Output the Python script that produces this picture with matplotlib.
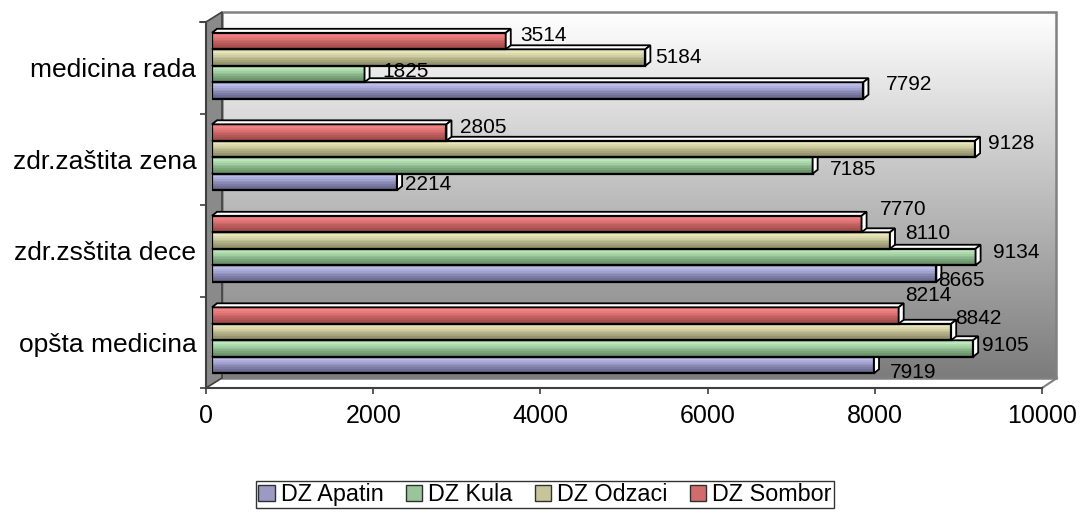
"""
Сгруппированная горизонтальная диаграмма (стиль Excel 3D) по домам здоровья.
"""

import numpy as np
import matplotlib
matplotlib.use('Agg')
import matplotlib.pyplot as plt
from matplotlib.colors import LinearSegmentedColormap, ListedColormap
from matplotlib.patches import Polygon, Rectangle, Patch
from matplotlib.transforms import IdentityTransform

# Данные
categories = ['opšta medicina', 'zdr.zsštita dece', 'zdr.zaštita zena', 'medicina rada']
series_names = ['DZ Apatin', 'DZ Kula', 'DZ Odzaci', 'DZ Sombor']
apatin = [7919, 8665, 2214, 7792]
kula = [9105, 9134, 7185, 1825]
odzaci = [8842, 8110, 9128, 5184]
sombor = [8214, 7770, 2805, 3514]
x_ticks = [0, 2000, 4000, 6000, 8000, 10000]

series_values = [apatin, kula, odzaci, sombor]

# Цвета серий: (светлый верх, тёмный низ)
SERIES_COLORS = [
    ('#c8c8f6', '#62628a'),
    ('#c8f6c8', '#628a62'),
    ('#f6f4c6', '#8c8a64'),
    ('#ff8a8a', '#9c4848'),
]

# Смещения подписей значений от конца столбца, пиксели: [серия][категория]
LABEL_DX = [[16, 2, 8, 22],
            [9, 17, 17, 18],
            [4, 15, 13, 10],
            [6, 18, 14, 14]]
LABEL_DY = [[-7.5, -7, -2.5, 5.5],
            [3, 4.5, -4, 2],
            [13.5, 7, 5.5, 0],
            [20, 14.5, 5, 6]]

W, H = 1080, 520
BAR_H = 0.18
DEPTH = (5, 4)

plt.rcParams['font.family'] = ['Liberation Sans', 'DejaVu Sans']

fig = plt.figure(figsize=(W / 100, H / 100), dpi=100)

# Фон: задняя и боковая стенки (в пиксельных координатах)
bg = fig.add_axes([0, 0, 1, 1], zorder=0)
bg.set_xlim(0, W)
bg.set_ylim(H, 0)
bg.axis('off')

wall_cmap = LinearSegmentedColormap.from_list('wall', ['#ffffff', '#7c7c7c'])
grad = np.linspace(0, 1, 256).reshape(-1, 1)
bg.imshow(grad, extent=(222, 1056, 378, 12), aspect='auto', cmap=wall_cmap,
          origin='upper', interpolation='bilinear')
bg.add_patch(Rectangle((222, 12), 834, 366, fill=False, ec='#808080', lw=1.8))
bg.add_patch(Polygon([(206, 22), (222, 12), (222, 378), (206, 388)],
                     closed=True, fc='#8a8a8a', ec='#404040', lw=1.2))
bg.plot([1042, 1057], [388, 378], color='#808080', lw=1.5)
bg.plot([200, 206], [22, 22], color='#404040', lw=1.2)
bg.set_xlim(0, W)
bg.set_ylim(H, 0)

# Основные оси (передняя плоскость): тики и подписи
ax = fig.add_axes([206 / W, (H - 388) / H, 836 / W, 366 / H], zorder=2)
ax.patch.set_alpha(0)
ax.set_xlim(0, 10000)
ax.set_ylim(0, 4)
ax.set_xticks(x_ticks)
ax.set_xticklabels([str(t) for t in x_ticks], fontsize=18)
ax.set_yticks(range(5))
ax.set_yticklabels([])
ax.set_yticks(np.arange(len(categories)) + 0.5, minor=True)
ax.set_yticklabels(categories, minor=True, fontsize=19)
ax.tick_params(axis='x', length=4.5, width=1.2, color='#404040', pad=7)
ax.tick_params(axis='y', which='major', length=4.5, width=1.2, color='#404040')
ax.tick_params(axis='y', which='minor', length=0, pad=7)
for side in ['top', 'right']:
    ax.spines[side].set_visible(False)
for side in ['left', 'bottom']:
    ax.spines[side].set_color('#404040')
    ax.spines[side].set_linewidth(1.5)

# Оси для столбцов (сдвинуты вглубь)
bax = fig.add_axes([212 / W, (H - 386) / H, 836 / W, 366 / H], zorder=3)
bax.axis('off')
bax.set_xlim(0, 10000)
bax.set_ylim(0, 4)

for k, values in enumerate(series_values):
    light, dark = SERIES_COLORS[k]
    cmap = ListedColormap(LinearSegmentedColormap.from_list(
        's%d' % k, [light, dark])(np.linspace(0, 1, 9)))
    z = 2 + k * 0.5
    for i, v in enumerate(values):
        y0 = i + 0.5 + (k - 2) * BAR_H
        y1 = y0 + BAR_H
        # Передняя грань с градиентом
        bax.imshow(grad, extent=(0, v, y0, y1), aspect='auto', cmap=cmap,
                   origin='upper', interpolation='nearest', zorder=z)
        bax.add_patch(Rectangle((0, y0), v, BAR_H, fill=False, ec='black',
                                lw=1.6, zorder=z + 0.1))
        # Верхняя и боковая грани
        p = bax.transData.transform([(0, y1), (v, y1), (v, y0)])
        dx, dy = DEPTH
        top = [p[0], p[1], p[1] + [dx, dy], p[0] + [dx, dy]]
        side = [p[2], p[1], p[1] + [dx, dy], p[2] + [dx, dy]]
        for poly in (top, side):
            bax.add_patch(Polygon(poly, closed=True, fc='white', ec='black',
                                  lw=1.3, transform=IdentityTransform(),
                                  clip_on=False, zorder=z + 0.2))
        # Подпись значения
        bax.annotate(str(v), xy=(v, (y0 + y1) / 2), xytext=(LABEL_DX[k][i], LABEL_DY[k][i]),
                     textcoords='offset pixels', ha='left', va='center',
                     fontsize=15, color='black', zorder=10, annotation_clip=False)

bax.set_xlim(0, 10000)
bax.set_ylim(0, 4)

# Легенда
handles = []
for k in range(len(series_names)):
    light, dark = SERIES_COLORS[k]
    mid = LinearSegmentedColormap.from_list('m', [light, dark])(0.45)
    handles.append(Patch(facecolor=mid, edgecolor='#303030', lw=1))
leg = fig.legend(handles, series_names, loc='center',
                 bbox_to_anchor=(545 / W, 1 - 494.5 / H), ncol=4, fontsize=16.8,
                 frameon=True, fancybox=False, edgecolor='black',
                 handlelength=0.7, handleheight=0.7, handletextpad=0.26,
                 columnspacing=0.95, borderpad=0.1, borderaxespad=0)
leg.get_frame().set_linewidth(1)

plt.savefig('out.png', dpi=100)
plt.close(fig)
